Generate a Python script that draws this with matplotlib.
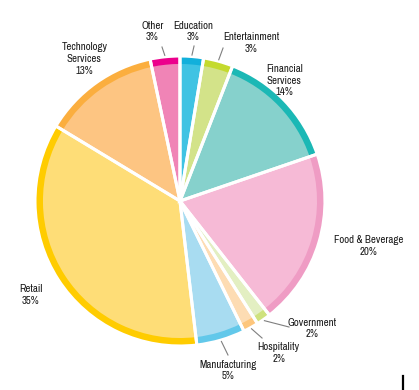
import numpy as np
import matplotlib
matplotlib.use("Agg")
import matplotlib.pyplot as plt
from matplotlib.lines import Line2D
from matplotlib import font_manager

# pick a narrow sans if one is installed
narrow = None
for f in font_manager.fontManager.ttflist:
    if 'Narrow' in f.name or 'Condensed' in f.name:
        narrow = f.name
        break
    if f.stretch in ('condensed', 'semi-condensed') and 'Sans' in f.name:
        narrow = f.name
if narrow:
    plt.rcParams['font.family'] = [narrow, 'DejaVu Sans']
else:
    plt.rcParams['font.family'] = ['DejaVu Sans']
plt.rcParams['font.stretch'] = 'condensed'

# sectors, clockwise from 12 o'clock
sectors = ["Education", "Entertainment", "Financial\nServices", "Food & Beverage",
           "Government", "Hospitality", "Manufacturing", "Retail",
           "Technology\nServices", "Other"]
shares = [2.6, 3.3, 13.8, 19.6, 1.6, 1.7, 5.4, 35.4, 13.0, 3.3]
pct_labels = ["3%", "3%", "14%", "20%", "2%", "2%", "5%", "35%", "13%", "3%"]

fill_colors = ["#3fc3e3", "#d3e389", "#86d1cc", "#f6bad6", "#e3efc2",
               "#fddcb3", "#a8dcf1", "#fedd77", "#fdc582", "#f084b6"]
rim_colors = ["#12b0db", "#c4da2e", "#1bb8b5", "#ef9cc4", "#cfe27e",
              "#fdc67c", "#62c8ea", "#ffcc00", "#fbae3e", "#ec008c"]

# label block centres and leader line ends (data units, pie radius = 1)
label_pos = [(0.09, 1.17), (0.49, 1.09), (0.72, 0.83), (1.30, -0.31),
             (0.91, -0.88), (0.68, -1.05), (0.33, -1.17), (-1.03, -0.65),
             (-0.66, 0.98), (-0.19, 1.17)]
leader_end = {0: (0.097, 1.069), 1: (0.297, 1.055), 4: (0.752, -0.869),
              5: (0.566, -0.945), 6: (0.331, -1.062), 9: (-0.124, 1.062)}

fig = plt.figure(figsize=(4.19, 3.90), dpi=100)
ax = fig.add_axes([0.0835, 0.1128, 0.6921, 0.7436])
ax.set_aspect('equal')
ax.axis('off')

# outer rim, inner fill, then white separators on top
ax.pie(shares, radius=1.0, colors=rim_colors, startangle=90, counterclock=False,
       wedgeprops=dict(linewidth=0))
ax.pie(shares, radius=0.945, colors=fill_colors, startangle=90, counterclock=False,
       wedgeprops=dict(linewidth=0))
ax.pie(shares, radius=1.0, startangle=90, counterclock=False,
       wedgeprops=dict(fill=False, edgecolor='white', linewidth=2.2))
ax.set_xlim(-1, 1)
ax.set_ylim(-1, 1)

total = sum(shares)
cum = np.cumsum([0] + shares[:-1])
fsize = 7.8 if narrow else 6.6
for i, (name, pct) in enumerate(zip(sectors, pct_labels)):
    mid = np.deg2rad((cum[i] + shares[i] / 2) / total * 360)
    lx, ly = label_pos[i]
    ax.text(lx, ly, name + "\n" + pct, ha='center', va='center', fontsize=fsize,
            color='#1a1a1a', linespacing=1.2, clip_on=False)
    if i in leader_end:
        x0, y0 = 1.01 * np.sin(mid), 1.01 * np.cos(mid)
        x1, y1 = leader_end[i]
        ax.add_line(Line2D([x0, x1], [y0, y1], color='#7f7f7f', lw=0.8,
                           clip_on=False))

# small black mark in the lower right corner of the original
fig.add_artist(Line2D([0.961, 0.961], [0.0, 0.036], color='black', lw=1.6))

fig.savefig("out.png", dpi=100)
